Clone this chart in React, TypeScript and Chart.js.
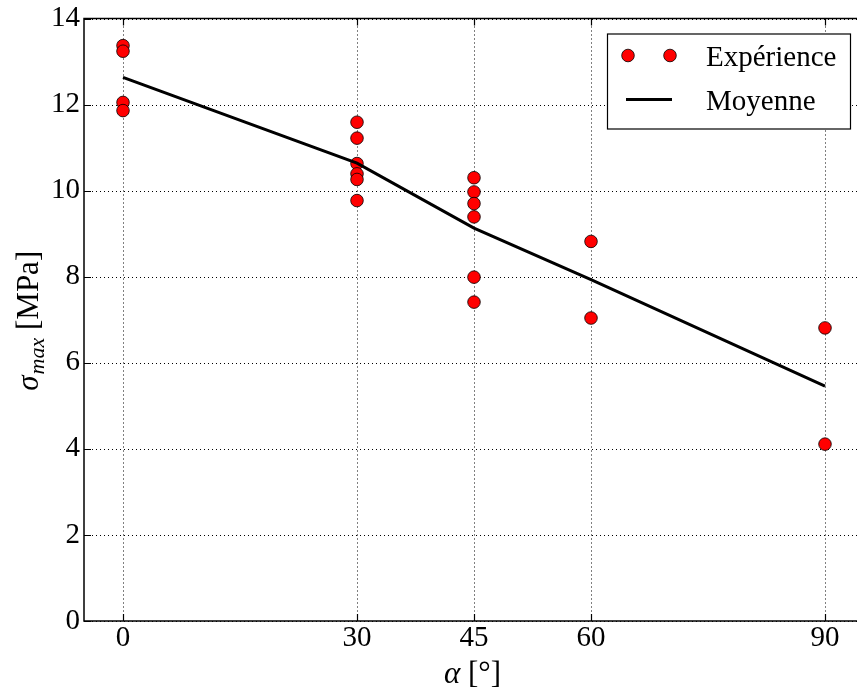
import React, { useEffect, useRef } from "react";
import { Chart, registerables } from "chart.js";

Chart.register(...registerables);

// ---- data ----
const expAngles = [0, 0, 0, 0, 30, 30, 30, 30, 30, 30, 45, 45, 45, 45, 45, 45, 60, 60, 90, 90];
const expStress = [13.37, 13.24, 12.05, 11.86, 11.59, 11.22, 10.63, 10.39, 10.26, 9.77, 10.3, 9.97, 9.7, 9.39, 7.99, 7.41, 8.82, 7.04, 6.81, 4.11];
const meanAngles = [0, 30, 45, 60, 90];
const meanStress = [12.63, 10.64, 9.13, 7.93, 5.46];
const xTickValues = [0, 30, 45, 60, 90];
const yTickStep = 2;
const seriesLabels = ["Expérience", "Moyenne"];
const xTitleParts = ["α", " [°]"];
const yTitleParts = ["σ", "max", " [MPa]"];

const SERIF = "'Liberation Serif', 'Times New Roman', serif";

export default function App() {
  const ref = useRef<HTMLCanvasElement | null>(null);

  useEffect(() => {
    document.body.style.margin = "0";
    const canvas = ref.current;
    if (!canvas) return;

    const mplPlugin = {
      id: "mplStyle",
      beforeDatasetsDraw(chart: any) {
        const { ctx, chartArea: a, scales } = chart;
        const xs = scales.x;
        const ys = scales.y;
        ctx.save();
        ctx.strokeStyle = "#000";
        ctx.lineWidth = 1;
        ctx.setLineDash([1, 3]);
        ctx.beginPath();
        xs.ticks.forEach((t: any) => {
          const px = Math.round(xs.getPixelForValue(t.value)) + 0.5;
          ctx.moveTo(px, a.top);
          ctx.lineTo(px, a.bottom);
        });
        ys.ticks.forEach((t: any) => {
          const py = Math.round(ys.getPixelForValue(t.value)) + 0.5;
          ctx.moveTo(a.left, py);
          ctx.lineTo(a.right, py);
        });
        ctx.stroke();
        ctx.restore();
      },
      afterDatasetsDraw(chart: any) {
        const { ctx, chartArea: a, scales } = chart;
        const xs = scales.x;
        const ys = scales.y;
        const tl = 7;
        ctx.save();
        ctx.strokeStyle = "#000";
        ctx.setLineDash([]);
        ctx.lineWidth = 1.2;
        ctx.beginPath();
        xs.ticks.forEach((t: any) => {
          const px = Math.round(xs.getPixelForValue(t.value)) + 0.5;
          ctx.moveTo(px, a.bottom);
          ctx.lineTo(px, a.bottom - tl);
          ctx.moveTo(px, a.top);
          ctx.lineTo(px, a.top + tl);
        });
        ys.ticks.forEach((t: any) => {
          const py = Math.round(ys.getPixelForValue(t.value)) + 0.5;
          ctx.moveTo(a.left, py);
          ctx.lineTo(a.left + tl, py);
          ctx.moveTo(a.right, py);
          ctx.lineTo(a.right - tl, py);
        });
        ctx.stroke();
        ctx.lineWidth = 1.5;
        ctx.strokeRect(a.left, a.top, a.right - a.left, a.bottom - a.top);
        ctx.restore();
      },
      afterDraw(chart: any) {
        const { ctx, chartArea: a } = chart;
        ctx.save();
        // ---- legend ----
        const lw = 243;
        const lh = 95;
        const lx = a.right - 14 - lw;
        const ly = a.top + 15;
        ctx.fillStyle = "#fff";
        ctx.fillRect(lx, ly, lw, lh);
        ctx.strokeStyle = "#000";
        ctx.lineWidth = 1.2;
        ctx.strokeRect(lx + 0.5, ly + 0.5, lw, lh);
        chart.data.datasets.forEach((ds: any, i: number) => {
          const cy = ly + 22 + i * 44;
          if (ds.showLine === false) {
            [lx + 21, lx + 63].forEach((cx) => {
              ctx.beginPath();
              ctx.arc(cx, cy, ds.pointRadius, 0, Math.PI * 2);
              ctx.fillStyle = ds.backgroundColor;
              ctx.fill();
              ctx.lineWidth = ds.borderWidth;
              ctx.strokeStyle = ds.borderColor;
              ctx.stroke();
            });
          } else {
            ctx.beginPath();
            ctx.moveTo(lx + 19, cy);
            ctx.lineTo(lx + 65, cy);
            ctx.lineWidth = ds.borderWidth;
            ctx.strokeStyle = ds.borderColor;
            ctx.stroke();
          }
          ctx.fillStyle = "#000";
          ctx.font = `29px ${SERIF}`;
          ctx.textBaseline = "alphabetic";
          ctx.textAlign = "left";
          ctx.fillText(ds.label, lx + 99, cy + 10);
        });

        // ---- x title ----
        ctx.fillStyle = "#000";
        ctx.textBaseline = "alphabetic";
        ctx.textAlign = "left";
        const fItal = `italic 31px ${SERIF}`;
        const fNorm = `31px ${SERIF}`;
        ctx.font = fItal;
        const wa = ctx.measureText(xTitleParts[0]).width;
        ctx.font = fNorm;
        const wb = ctx.measureText(xTitleParts[1]).width;
        const xc = (a.left + a.right) / 2 - 1.5;
        const xb = a.bottom + 62;
        let sx = xc - (wa + wb) / 2;
        ctx.font = fItal;
        ctx.fillText(xTitleParts[0], sx, xb);
        ctx.font = fNorm;
        ctx.fillText(xTitleParts[1], sx + wa, xb);

        // ---- y title ----
        const fSub = `italic 22px ${SERIF}`;
        ctx.font = fItal;
        const w1 = ctx.measureText(yTitleParts[0]).width;
        ctx.font = fSub;
        const w2 = ctx.measureText(yTitleParts[1]).width;
        ctx.font = fNorm;
        const w3 = ctx.measureText(yTitleParts[2]).width;
        const total = w1 + 1 + w2 + w3;
        ctx.translate(38, (a.top + a.bottom) / 2 + 1);
        ctx.rotate(-Math.PI / 2);
        let tx = -total / 2;
        ctx.font = fItal;
        ctx.fillText(yTitleParts[0], tx, 0);
        tx += w1 + 1;
        ctx.font = fSub;
        ctx.fillText(yTitleParts[1], tx, 6);
        tx += w2;
        ctx.font = fNorm;
        ctx.fillText(yTitleParts[2], tx, 0);
        ctx.restore();
      },
    };

    const chart = new Chart(canvas, {
      type: "scatter",
      data: {
        datasets: [
          {
            label: seriesLabels[0],
            data: expAngles.map((x, i) => ({ x, y: expStress[i] })),
            showLine: false,
            backgroundColor: "#ff0000",
            borderColor: "#000000",
            borderWidth: 0.8,
            pointRadius: 6.3,
            order: 1,
          },
          {
            label: seriesLabels[1],
            type: "line",
            data: meanAngles.map((x, i) => ({ x, y: meanStress[i] })),
            showLine: true,
            borderColor: "#000000",
            backgroundColor: "#000000",
            borderWidth: 3,
            pointRadius: 0,
            fill: false,
            tension: 0,
            order: 0,
          } as any,
        ],
      },
      options: {
        animation: false,
        responsive: false,
        devicePixelRatio: 1,
        layout: { padding: { left: 0, top: 17, right: 16, bottom: 0 } },
        plugins: {
          legend: { display: false },
          tooltip: { enabled: false },
        },
        scales: {
          x: {
            type: "linear",
            min: -5,
            max: 95,
            grid: { display: false, drawTicks: false },
            border: { display: false },
            afterBuildTicks: (scale: any) => {
              scale.ticks = xTickValues.map((v) => ({ value: v }));
            },
            afterFit: (scale: any) => {
              scale.height = 68;
            },
            ticks: {
              color: "#000",
              padding: 3,
              maxRotation: 0,
              autoSkip: false,
              font: { family: SERIF, size: 29, lineHeight: 1 },
              callback: (v: any) => String(v),
            },
          },
          y: {
            type: "linear",
            min: 0,
            max: 14,
            grid: { display: false, drawTicks: false },
            border: { display: false },
            afterFit: (scale: any) => {
              scale.width = 84;
            },
            ticks: {
              stepSize: yTickStep,
              color: "#000",
              padding: 4,
              font: { family: SERIF, size: 29, lineHeight: 1 },
              callback: (v: any) => String(v),
            },
          },
        },
      },
      plugins: [mplPlugin],
    } as any);

    return () => chart.destroy();
  }, []);

  return (
    <div style={{ position: "absolute", left: 0, top: 0, width: 857, height: 689, overflow: "hidden", background: "#fff" }}>
      <canvas ref={ref} width={880} height={689} style={{ display: "block", width: 880, height: 689 }} />
    </div>
  );
}
